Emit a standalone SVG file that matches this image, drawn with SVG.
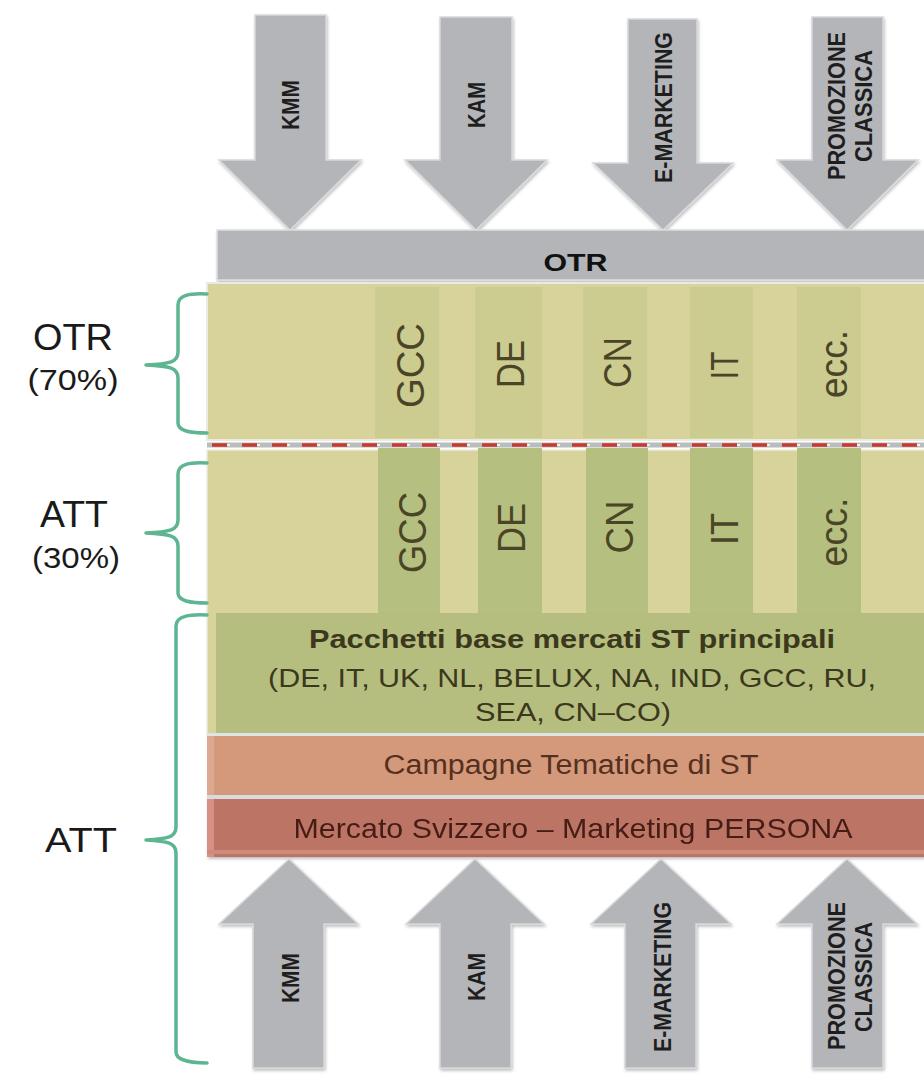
<svg xmlns="http://www.w3.org/2000/svg" width="924" height="1083" viewBox="0 0 924 1083">
  <defs>
    <filter id="sh" x="-10%" y="-10%" width="120%" height="120%">
      <feDropShadow dx="1" dy="2" stdDeviation="1.5" flood-color="#000" flood-opacity="0.25"/>
    </filter>
    <style>
      .arrow { fill: #b4b5b8; stroke: #d6d8da; stroke-width: 1.5; filter: url(#sh); }
      .alab { font-family: "Liberation Sans", Arial, sans-serif; font-weight: bold; font-size: 23px; fill: #1e1e1e; text-anchor: middle; }
      .col1 { fill: #cccb90; }
      .col2 { fill: #b5bf80; }
      .ctext { font-family: "Liberation Sans", Arial, sans-serif; font-size: 38px; fill: #4a4526; text-anchor: middle; }
      .brace { fill: none; stroke: #5db592; stroke-width: 3.5; stroke-linejoin: round; stroke-linecap: round; }
      .side { font-family: "Liberation Sans", Arial, sans-serif; fill: #1a1a1a; text-anchor: middle; }
      .band { font-family: "Liberation Sans", Arial, sans-serif; text-anchor: middle; }
    </style>
  </defs>
  <rect width="924" height="1083" fill="#ffffff"/>

  <!-- Top arrows -->
  <g id="arrow-top-kmm">
    <polygon class="arrow" points="255,15 326,15 326,160 361,160 290,230 219,160 255,160"/>
    <text class="alab" transform="translate(299,105) rotate(-90)" textLength="50" lengthAdjust="spacingAndGlyphs">KMM</text>
  </g>
  <g id="arrow-top-kam">
    <polygon class="arrow" points="440,17 512,17 512,160 547,160 476,230 405,160 440,160"/>
    <text class="alab" transform="translate(484.5,105) rotate(-90)" textLength="46" lengthAdjust="spacingAndGlyphs">KAM</text>
  </g>
  <g id="arrow-top-emarketing">
    <polygon class="arrow" points="628,19 697,19 697,163 733,163 663,230 593,163 628,163"/>
    <text class="alab" transform="translate(672,107.5) rotate(-90)" textLength="151" lengthAdjust="spacingAndGlyphs">E-MARKETING</text>
  </g>
  <g id="arrow-top-promozione">
    <polygon class="arrow" points="812,17 883,17 883,160 918,160 847,230 777,160 812,160"/>
    <text class="alab" transform="translate(844.5,106) rotate(-90)" textLength="148" lengthAdjust="spacingAndGlyphs">PROMOZIONE</text>
    <text class="alab" transform="translate(872,106) rotate(-90)" textLength="112" lengthAdjust="spacingAndGlyphs">CLASSICA</text>
  </g>

  <!-- OTR bar -->
  <g id="otr-bar">
    <rect x="217" y="230" width="720" height="50" fill="#b4b5b8" stroke="#dcdedf" stroke-width="1.5" filter="url(#sh)"/>
    <text x="575.5" y="271" font-family="'Liberation Sans', Arial, sans-serif" font-weight="bold" font-size="23" fill="#111" text-anchor="middle" textLength="64" lengthAdjust="spacingAndGlyphs">OTR</text>
  </g>

  <!-- OTR panel -->
  <g id="panel-otr">
    <rect x="207" y="283" width="730" height="157" fill="#d8d39a" stroke="#e9ebe2" stroke-width="2"/>
    <rect class="col1" x="375" y="287" width="64" height="151"/>
    <rect class="col1" x="475" y="287" width="67" height="151"/>
    <rect class="col1" x="583" y="287" width="64" height="151"/>
    <rect class="col1" x="690" y="287" width="63" height="151"/>
    <rect class="col1" x="797" y="287" width="64" height="151"/>
    <text class="ctext" transform="translate(424,365.5) rotate(-90)" textLength="85" lengthAdjust="spacingAndGlyphs">GCC</text>
    <text class="ctext" transform="translate(524,364) rotate(-90)" textLength="48" lengthAdjust="spacingAndGlyphs">DE</text>
    <text class="ctext" transform="translate(631,362.5) rotate(-90)" textLength="51" lengthAdjust="spacingAndGlyphs">CN</text>
    <text class="ctext" transform="translate(738,365.5) rotate(-90)" textLength="28" lengthAdjust="spacingAndGlyphs">IT</text>
    <text class="ctext" transform="translate(847,364) rotate(-90)" textLength="68" lengthAdjust="spacingAndGlyphs">ecc.</text>
  </g>

  <!-- Dashed separator -->
  <g id="separator">
    <line x1="207" y1="445" x2="924" y2="445" stroke="#b9bdbd" stroke-width="5"/>
    <line x1="207" y1="445" x2="924" y2="445" stroke="#eef0ee" stroke-width="2" stroke-dasharray="3 27" stroke-dashoffset="-20"/>
    <line x1="212" y1="445" x2="924" y2="445" stroke="#c8392f" stroke-width="3.5" stroke-dasharray="15 15"/>
  </g>

  <!-- ATT panel -->
  <g id="panel-att">
    <rect x="207" y="450" width="730" height="285" fill="#d8d39a" stroke="#e9ebe2" stroke-width="1.5"/>
    <rect class="col2" x="378" y="448" width="62" height="165"/>
    <rect class="col2" x="478" y="448" width="64" height="165"/>
    <rect class="col2" x="586" y="448" width="62" height="165"/>
    <rect class="col2" x="690" y="448" width="63" height="165"/>
    <rect class="col2" x="797" y="448" width="64" height="165"/>
    <text class="ctext" transform="translate(426,532.5) rotate(-90)" textLength="81" lengthAdjust="spacingAndGlyphs">GCC</text>
    <text class="ctext" transform="translate(525,528) rotate(-90)" textLength="50" lengthAdjust="spacingAndGlyphs">DE</text>
    <text class="ctext" transform="translate(633,527) rotate(-90)" textLength="53" lengthAdjust="spacingAndGlyphs">CN</text>
    <text class="ctext" transform="translate(738,529) rotate(-90)" textLength="32" lengthAdjust="spacingAndGlyphs">IT</text>
    <text class="ctext" transform="translate(847,532) rotate(-90)" textLength="69" lengthAdjust="spacingAndGlyphs">ecc.</text>
  </g>

  <!-- Pacchetti base -->
  <g id="band-pacchetti">
    <rect x="216" y="613" width="721" height="120" fill="#b5be7f"/>
    <text class="band" x="572" y="648" font-weight="bold" font-size="25" fill="#3b381d" textLength="526" lengthAdjust="spacingAndGlyphs">Pacchetti base mercati ST principali</text>
    <text class="band" x="572" y="687" font-size="26" fill="#3b381d" textLength="608" lengthAdjust="spacingAndGlyphs">(DE, IT, UK, NL, BELUX, NA, IND, GCC, RU,</text>
    <text class="band" x="573" y="721" font-size="26" fill="#3b381d" textLength="196" lengthAdjust="spacingAndGlyphs">SEA, CN–CO)</text>
  </g>

  <!-- Campagne Tematiche -->
  <g id="band-campagne">
    <rect x="207" y="733" width="730" height="3" fill="#dfe4e6"/>
    <rect x="207" y="736" width="730" height="59" fill="#d4997b"/>
    <rect x="207" y="736" width="7" height="59" fill="#dca890"/>
    <text class="band" x="571" y="774" font-size="27" fill="#55301f" textLength="375" lengthAdjust="spacingAndGlyphs">Campagne Tematiche di ST</text>
  </g>

  <!-- Mercato Svizzero -->
  <g id="band-mercato" filter="url(#sh)">
    <rect x="207" y="795" width="730" height="4" fill="#d8dadb"/>
    <rect x="207" y="799" width="730" height="58" fill="#bc7565"/>
    <rect x="207" y="799" width="7" height="58" fill="#d98f85"/>
    <rect x="207" y="850" width="730" height="4" fill="#cf8a7c"/>
    <text class="band" x="573" y="838" font-size="28" fill="#451c16" textLength="559" lengthAdjust="spacingAndGlyphs">Mercato Svizzero – Marketing PERSONA</text>
  </g>

  <!-- Bottom arrows -->
  <g id="arrow-bottom-kmm">
    <polygon class="arrow" points="289,859 358,924 324,924 324,1068 253,1068 253,924 219,924"/>
    <text class="alab" transform="translate(298.5,978) rotate(-90)" textLength="50" lengthAdjust="spacingAndGlyphs">KMM</text>
  </g>
  <g id="arrow-bottom-kam">
    <polygon class="arrow" points="475,859 544,924 511,924 511,1068 440,1068 440,924 406,924"/>
    <text class="alab" transform="translate(484.5,977) rotate(-90)" textLength="48" lengthAdjust="spacingAndGlyphs">KAM</text>
  </g>
  <g id="arrow-bottom-emarketing">
    <polygon class="arrow" points="661,859 731,924 696,924 696,1068 625,1068 625,924 591,924"/>
    <text class="alab" transform="translate(671,977) rotate(-90)" textLength="150" lengthAdjust="spacingAndGlyphs">E-MARKETING</text>
  </g>
  <g id="arrow-bottom-promozione">
    <polygon class="arrow" points="847,859 917,924 883,924 883,1068 812,1068 812,924 777,924"/>
    <text class="alab" transform="translate(844.5,976) rotate(-90)" textLength="148" lengthAdjust="spacingAndGlyphs">PROMOZIONE</text>
    <text class="alab" transform="translate(872,977) rotate(-90)" textLength="110" lengthAdjust="spacingAndGlyphs">CLASSICA</text>
  </g>

  <!-- Braces -->
  <g id="connectors">
    <path class="brace" d="M207,294 C190,293 178,295 178,305 L178,352 C178,362 170,364 146,365 C170,366 178,368 178,378 L178,423 C178,431 190,433 207,433"/>
    <path class="brace" d="M207,463 C190,462 178,464 178,474 L178,520 C178,530 170,532 146,533 C170,534 178,536 178,546 L178,593 C178,601 190,603 207,603"/>
    <path class="brace" d="M207,615 C190,614 176,616 176,626 L176,827 C176,837 168,839 146,840 C168,841 176,843 176,853 L176,1052 C176,1060 190,1063 207,1063"/>
  </g>

  <!-- Side labels -->
  <g id="label-otr">
    <text class="side" x="73" y="350" font-size="37" textLength="80" lengthAdjust="spacingAndGlyphs">OTR</text>
    <text class="side" x="73" y="390" font-size="30" textLength="91" lengthAdjust="spacingAndGlyphs">(70%)</text>
  </g>
  <g id="label-att30">
    <text class="side" x="74" y="527" font-size="37" textLength="68" lengthAdjust="spacingAndGlyphs">ATT</text>
    <text class="side" x="76" y="568" font-size="30" textLength="88" lengthAdjust="spacingAndGlyphs">(30%)</text>
  </g>
  <g id="label-att">
    <text class="side" x="81" y="852" font-size="35" textLength="72" lengthAdjust="spacingAndGlyphs">ATT</text>
  </g>
</svg>
